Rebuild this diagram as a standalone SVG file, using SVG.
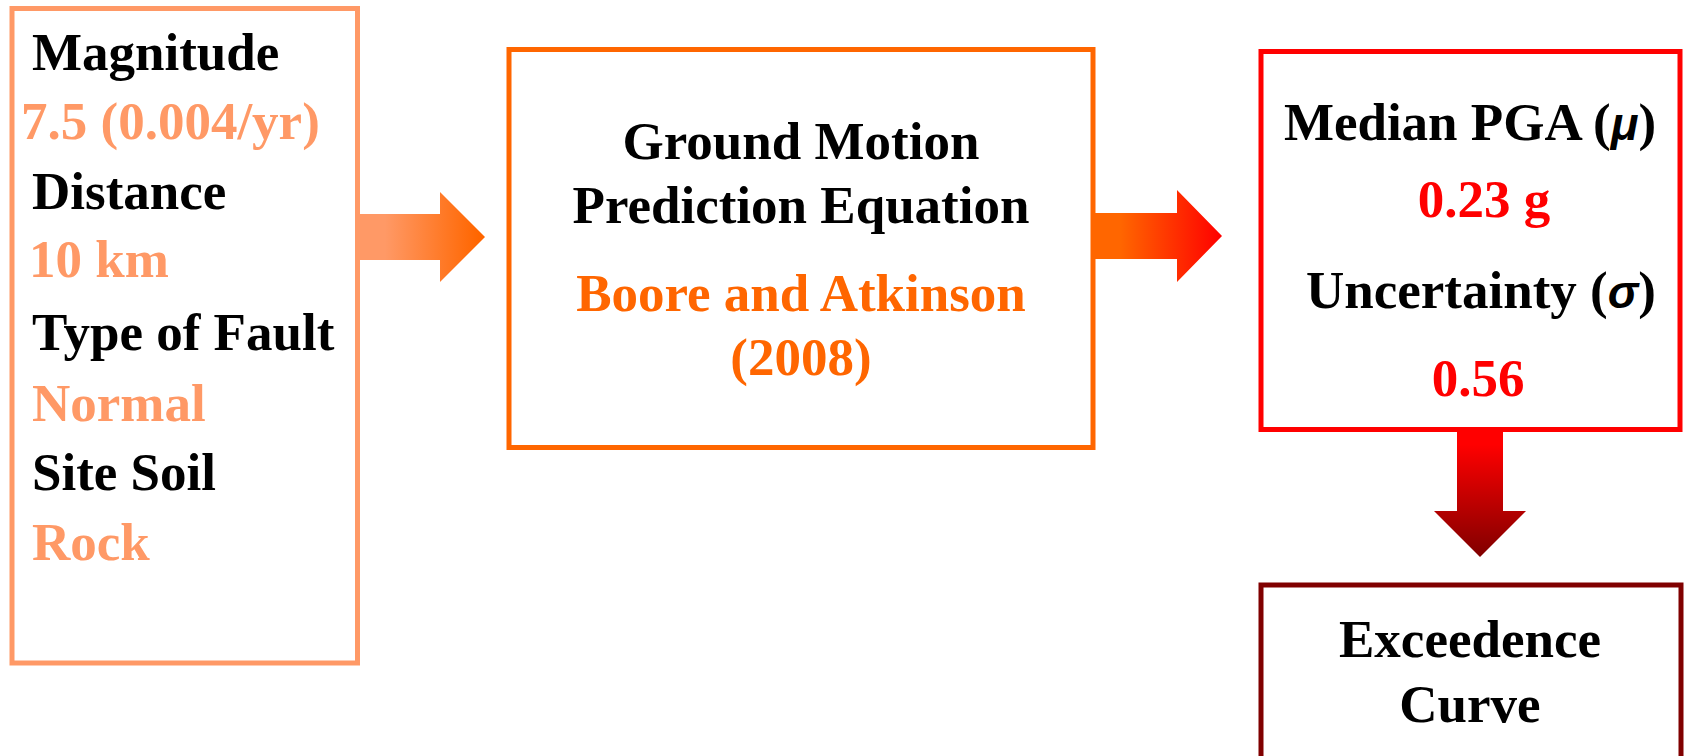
<svg xmlns="http://www.w3.org/2000/svg" width="1685" height="756" viewBox="0 0 1685 756">
  <defs>
    <style>
      .t { font-family: "Liberation Serif", "Times New Roman", serif; font-weight: bold; font-size: 53px; }
      .blk { fill: #000000; }
      .lo { fill: #FF9966; }
      .or { fill: #FF6600; }
      .rd { fill: #FF0000; }
      .sym { font-family: "Liberation Sans", Arial, sans-serif; font-style: italic; font-weight: bold; font-size: 46px; }
      .box { fill: #FFFFFF; stroke-width: 5; }
    </style>
    <linearGradient id="g1" gradientUnits="userSpaceOnUse" x1="360" y1="0" x2="485" y2="0">
      <stop offset="0.2" stop-color="#FF9966"/>
      <stop offset="0.95" stop-color="#FF6600"/>
    </linearGradient>
    <linearGradient id="g2" gradientUnits="userSpaceOnUse" x1="1095" y1="0" x2="1222" y2="0">
      <stop offset="0.2" stop-color="#FF6600"/>
      <stop offset="1" stop-color="#FF0000"/>
    </linearGradient>
    <linearGradient id="g3" gradientUnits="userSpaceOnUse" x1="0" y1="432" x2="0" y2="557">
      <stop offset="0.1" stop-color="#FF0000"/>
      <stop offset="1" stop-color="#800000"/>
    </linearGradient>
  </defs>
  <rect x="0" y="0" width="1685" height="756" fill="#FFFFFF"/>

  <g id="connectors">
    <polygon points="360,214 440,214 440,192 485,237 440,282 440,260 360,260" fill="url(#g1)"/>
    <polygon points="1095,213 1177,213 1177,190 1222,236 1177,282 1177,259 1095,259" fill="url(#g2)"/>
    <polygon points="1457,432 1503,432 1503,511 1526,511 1480,557 1434,511 1457,511" fill="url(#g3)"/>
  </g>

  <g id="node-inputs">
    <rect class="box" x="12" y="8.5" width="345.5" height="654.5" stroke="#FF9966"/>
    <text class="t blk" x="32" y="70">Magnitude</text>
    <text class="t lo" x="21" y="139">7.5 (0.004/yr)</text>
    <text class="t blk" x="32" y="209">Distance</text>
    <text class="t lo" x="29" y="277">10 km</text>
    <text class="t blk" x="32" y="350">Type of Fault</text>
    <text class="t lo" x="32" y="421">Normal</text>
    <text class="t blk" x="32" y="490">Site Soil</text>
    <text class="t lo" x="32" y="560">Rock</text>
  </g>

  <g id="node-gmpe">
    <rect class="box" x="509" y="49.5" width="584" height="398" stroke="#FF6600"/>
    <text class="t blk" x="801" y="159" text-anchor="middle">Ground Motion</text>
    <text class="t blk" x="801" y="223" text-anchor="middle">Prediction Equation</text>
    <text class="t or" x="801" y="311" text-anchor="middle">Boore and Atkinson</text>
    <text class="t or" x="801" y="375" text-anchor="middle">(2008)</text>
  </g>

  <g id="node-pga">
    <rect class="box" x="1261" y="51.5" width="419" height="378" stroke="#FF0000"/>
    <text class="t blk" x="1470" y="140" text-anchor="middle">Median PGA (<tspan class="sym">μ</tspan>)</text>
    <text class="t rd" x="1484" y="217" text-anchor="middle">0.23 g</text>
    <text class="t blk" x="1481" y="308" text-anchor="middle">Uncertainty (<tspan class="sym">σ</tspan>)</text>
    <text class="t rd" x="1478" y="396" text-anchor="middle">0.56</text>
  </g>

  <g id="node-curve">
    <rect class="box" x="1261" y="585" width="420" height="200" stroke="#800000"/>
    <text class="t blk" x="1470" y="657" text-anchor="middle">Exceedence</text>
    <text class="t blk" x="1470" y="722" text-anchor="middle">Curve</text>
  </g>
</svg>
